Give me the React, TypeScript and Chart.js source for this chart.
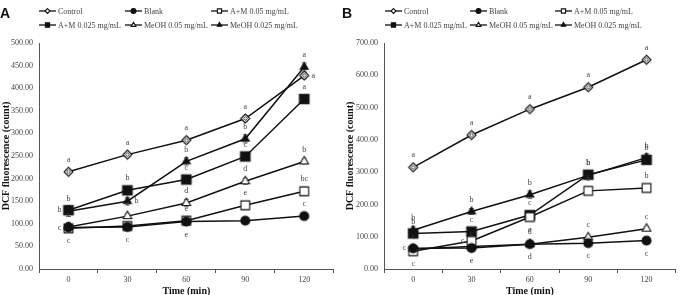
import { useEffect, useRef } from "react";
import { Chart, registerables } from "chart.js";

Chart.register(...registerables);

const SERIF = '"Liberation Serif", "Times New Roman", serif';
Chart.defaults.font.family = SERIF;

// ---- shared ----
const timeLabels = ["0", "30", "60", "90", "120"];
const seriesNames = [
  "Control",
  "Blank",
  "A+M 0.05 mg/mL",
  "A+M 0.025 mg/mL",
  "MeOH 0.05 mg/mL",
  "MeOH 0.025 mg/mL",
];

// ---- panel A: DCF fluorescence (count) ----
const controlA = [215, 253, 285, 333, 428];
const blankA = [92, 93, 105, 107, 117];
const am05A = [90, 95, 107, 141, 172];
const am025A = [130, 174, 198, 249, 376];
const meoh05A = [93, 117, 146, 194, 238];
const meoh025A = [128, 150, 238, 288, 447];

const errA = [
  [4, 5, 6, 6, 7],
  [3, 3, 4, 3, 4],
  [4, 4, 8, 8, 9],
  [8, 6, 6, 7, 8],
  [10, 5, 8, 7, 6],
  [12, 8, 8, 9, 9],
];
const lettersA = [
  ["a", "a", "a", "a", "a"],
  ["c", "c", "e", "", "c"],
  ["c", "", "e", "e", "bc"],
  ["b", "b", "c", "c", "a"],
  ["c", "c", "d", "d", "b"],
  ["b", "b", "b", "b", "a"],
];
const placesA = [
  ["u", "u", "u", "u", "r"],
  ["d", "d", "d", "d", "u"],
  ["l", "u", "u", "u", "u"],
  ["l", "u", "u", "u", "u"],
  ["u", "u", "u", "u", "u"],
  ["u", "r", "u", "u", "u"],
];
const yTicksA = { max: 500, step: 50 };

// ---- panel B ----
const controlB = [315, 415, 495, 563, 648];
const blankB = [64, 65, 77, 80, 88];
const am05B = [55, 87, 161, 242, 251];
const am025B = [110, 116, 167, 292, 338];
const meoh05B = [62, 70, 77, 98, 125];
const meoh025B = [120, 178, 230, 290, 345];

const errB = [
  [5, 6, 6, 7, 7],
  [4, 3, 4, 4, 4],
  [4, 8, 8, 9, 10],
  [8, 6, 8, 10, 9],
  [4, 5, 5, 5, 6],
  [12, 9, 12, 10, 12],
];
const lettersB = [
  ["a", "a", "a", "a", "a"],
  ["c", "e", "d", "c", "c"],
  ["c", "c", "e", "b", "b"],
  ["b", "c", "c", "b", "b"],
  ["c", "c", "d", "c", "c"],
  ["b", "b", "b", "b", "b"],
];
const placesB = [
  ["u", "u", "u", "u", "u"],
  ["l", "d", "d", "d", "d"],
  ["d", "l", "d", "u", "u"],
  ["u", "u", "u", "u", "u"],
  ["u", "u", "u", "u", "u"],
  ["u", "u", "u", "u", "u"],
];
const yTicksB = { max: 700, step: 100 };

// ---- marker styles ----
type Marker = { shape: "diamond" | "circle" | "square" | "triangle"; filled: boolean; r: number };
const markers: Marker[] = [
  { shape: "diamond", filled: false, r: 4.5 },
  { shape: "circle", filled: true, r: 4.5 },
  { shape: "square", filled: false, r: 6.2 },
  { shape: "square", filled: true, r: 6.8 },
  { shape: "triangle", filled: false, r: 5 },
  { shape: "triangle", filled: true, r: 4.6 },
];

const INK = "#111";
const TEXT = "#444";

function drawMarker(ctx: CanvasRenderingContext2D, m: Marker, x: number, y: number, r: number) {
  ctx.save();
  ctx.beginPath();
  if (m.shape === "circle") {
    ctx.arc(x, y, r, 0, Math.PI * 2);
  } else if (m.shape === "square") {
    const s = r * Math.SQRT1_2;
    ctx.rect(x - s, y - s, 2 * s, 2 * s);
  } else if (m.shape === "diamond") {
    ctx.moveTo(x, y - r);
    ctx.lineTo(x + r, y);
    ctx.lineTo(x, y + r);
    ctx.lineTo(x - r, y);
    ctx.closePath();
  } else {
    const h = r * 1.5;
    ctx.moveTo(x, y - r);
    ctx.lineTo(x + h / Math.sqrt(3), y + r / 2);
    ctx.lineTo(x - h / Math.sqrt(3), y + r / 2);
    ctx.closePath();
  }
  ctx.fillStyle = m.filled ? INK : "#fff";
  ctx.fill();
  ctx.lineWidth = 1.1;
  ctx.strokeStyle = INK;
  ctx.stroke();
  if (m.shape === "diamond" && r > 3) {
    ctx.beginPath();
    const q = r * 0.42;
    ctx.moveTo(x, y - q);
    ctx.lineTo(x + q, y);
    ctx.lineTo(x, y + q);
    ctx.lineTo(x - q, y);
    ctx.closePath();
    ctx.lineWidth = 0.9;
    ctx.stroke();
  }
  ctx.restore();
}

function markerImage(m: Marker): HTMLCanvasElement {
  const size = Math.ceil(m.r * 2 + 4);
  const c = document.createElement("canvas");
  c.width = size;
  c.height = size;
  const ctx = c.getContext("2d")!;
  drawMarker(ctx, m, size / 2, size / 2, m.r);
  return c;
}

type PanelCfg = {
  tag: string;
  series: number[][];
  errors: number[][];
  letters: string[][];
  places: string[][];
  yMax: number;
  yStep: number;
  yAxisWidth: number;
  titlePad: number;
  padRight: number;
  legendCols: number[];
};

const legendRows = [11, 25];
const letterOffset: Record<string, [number, number]> = {
  u: [0, -12],
  d: [0, 13],
  l: [-9, 0],
  r: [9, 0],
};

function decorPlugin(cfg: PanelCfg) {
  return {
    id: "panelDecor" + cfg.tag,
    beforeDatasetsDraw(chart: Chart) {
      const ctx = chart.ctx;
      const y = chart.scales.y;
      ctx.save();
      ctx.strokeStyle = "#555";
      ctx.lineWidth = 0.8;
      cfg.series.forEach((vals, i) => {
        const meta = chart.getDatasetMeta(i);
        vals.forEach((v, j) => {
          const e = cfg.errors[i][j];
          const px = meta.data[j].x;
          const y1 = y.getPixelForValue(v + e);
          const y2 = y.getPixelForValue(v - e);
          ctx.beginPath();
          ctx.moveTo(px, y1);
          ctx.lineTo(px, y2);
          ctx.moveTo(px - 2.5, y1);
          ctx.lineTo(px + 2.5, y1);
          ctx.moveTo(px - 2.5, y2);
          ctx.lineTo(px + 2.5, y2);
          ctx.stroke();
        });
      });
      ctx.restore();
    },
    afterDatasetsDraw(chart: Chart) {
      const ctx = chart.ctx;
      ctx.save();
      ctx.font = `8px ${SERIF}`;
      ctx.fillStyle = TEXT;
      ctx.textAlign = "center";
      ctx.textBaseline = "middle";
      cfg.letters.forEach((row, i) => {
        const meta = chart.getDatasetMeta(i);
        row.forEach((t, j) => {
          if (!t) return;
          const p = meta.data[j];
          const [dx, dy] = letterOffset[cfg.places[i][j]];
          ctx.fillText(t, p.x + dx, p.y + dy);
        });
      });
      ctx.restore();
    },
    afterDraw(chart: Chart) {
      const ctx = chart.ctx;
      ctx.save();
      // panel tag
      ctx.font = `bold 14px "Liberation Sans", Arial, sans-serif`;
      ctx.fillStyle = "#111";
      ctx.textAlign = "left";
      ctx.textBaseline = "alphabetic";
      ctx.fillText(cfg.tag, 0, 18);
      // legend
      ctx.font = `8px ${SERIF}`;
      ctx.textBaseline = "middle";
      seriesNames.forEach((name, k) => {
        const x0 = cfg.legendCols[k % 3];
        const yy = legendRows[Math.floor(k / 3)];
        ctx.strokeStyle = INK;
        ctx.lineWidth = 1.3;
        ctx.beginPath();
        ctx.moveTo(x0, yy);
        ctx.lineTo(x0 + 17, yy);
        ctx.stroke();
        drawMarker(ctx, markers[k], x0 + 8.5, yy, Math.min(markers[k].r * 0.55, 3));
        ctx.fillStyle = TEXT;
        ctx.fillText(name, x0 + 19, yy + 0.5);
      });
      ctx.restore();
    },
  };
}

function buildConfig(cfg: PanelCfg): any {
  return {
    type: "line",
    data: {
      labels: timeLabels,
      datasets: cfg.series.map((vals, i) => ({
        label: seriesNames[i],
        data: vals,
        borderColor: INK,
        borderWidth: 1.5,
        pointStyle: markerImage(markers[i]),
        pointRadius: markers[i].r,
        tension: 0,
        fill: false,
      })),
    },
    options: {
      animation: false,
      responsive: false,
      devicePixelRatio: 1,
      layout: { padding: { top: 43, right: cfg.padRight, bottom: 0, left: 0 } },
      plugins: { legend: { display: false }, tooltip: { enabled: false } },
      scales: {
        x: {
          type: "category",
          offset: true,
          grid: {
            display: true,
            drawOnChartArea: false,
            drawTicks: true,
            tickLength: 4,
            offset: true,
            color: "#555",
          },
          border: { display: true, color: "#555", width: 1 },
          ticks: { color: TEXT, font: { size: 8, family: SERIF }, padding: 2, maxRotation: 0 },
          title: {
            display: true,
            text: "Time (min)",
            color: "#111",
            font: { size: 10, weight: "bold", family: SERIF },
            padding: { top: 0, bottom: 8 },
          },
          afterFit: (s: any) => {
            s.height = 36;
          },
        },
        y: {
          min: 0,
          max: cfg.yMax,
          grid: { display: false, drawTicks: false },
          border: { display: true, color: "#555", width: 1 },
          ticks: {
            stepSize: cfg.yStep,
            color: TEXT,
            font: { size: 8, family: SERIF },
            padding: 6,
            callback: (v: number) => Number(v).toFixed(2),
          },
          title: {
            display: true,
            text: "DCF fluorescence (count)",
            color: "#111",
            font: { size: 10, weight: "bold", family: SERIF },
            padding: { top: cfg.titlePad, bottom: 0 },
          },
          afterFit: (s: any) => {
            s.width = cfg.yAxisWidth;
          },
        },
      },
    },
    plugins: [decorPlugin(cfg)],
  };
}

const panelA: PanelCfg = {
  tag: "A",
  series: [controlA, blankA, am05A, am025A, meoh05A, meoh025A],
  errors: errA,
  letters: lettersA,
  places: placesA,
  yMax: yTicksA.max,
  yStep: yTicksA.step,
  yAxisWidth: 39,
  titlePad: 0,
  padRight: 4,
  legendCols: [39, 125, 211],
};

const panelB: PanelCfg = {
  tag: "B",
  series: [controlB, blankB, am05B, am025B, meoh05B, meoh025B],
  errors: errB,
  letters: lettersB,
  places: placesB,
  yMax: yTicksB.max,
  yStep: yTicksB.step,
  yAxisWidth: 42,
  titlePad: 2,
  padRight: 3,
  legendCols: [43, 128, 213],
};

function Panel({ cfg, left }: { cfg: PanelCfg; left: number }) {
  const ref = useRef<HTMLCanvasElement>(null);
  useEffect(() => {
    const chart = new Chart(ref.current!, buildConfig(cfg));
    return () => chart.destroy();
  }, [cfg]);
  return (
    <div style={{ position: "absolute", left, top: 0, width: 342, height: 305 }}>
      <canvas ref={ref} width={342} height={305} style={{ display: "block" }} />
    </div>
  );
}

export default function App() {
  return (
    <div
      style={{
        position: "absolute",
        left: 0,
        top: 0,
        width: 684,
        height: 295,
        overflow: "hidden",
        background: "#fff",
      }}
    >
      <Panel cfg={panelA} left={0} />
      <Panel cfg={panelB} left={342} />
    </div>
  );
}
